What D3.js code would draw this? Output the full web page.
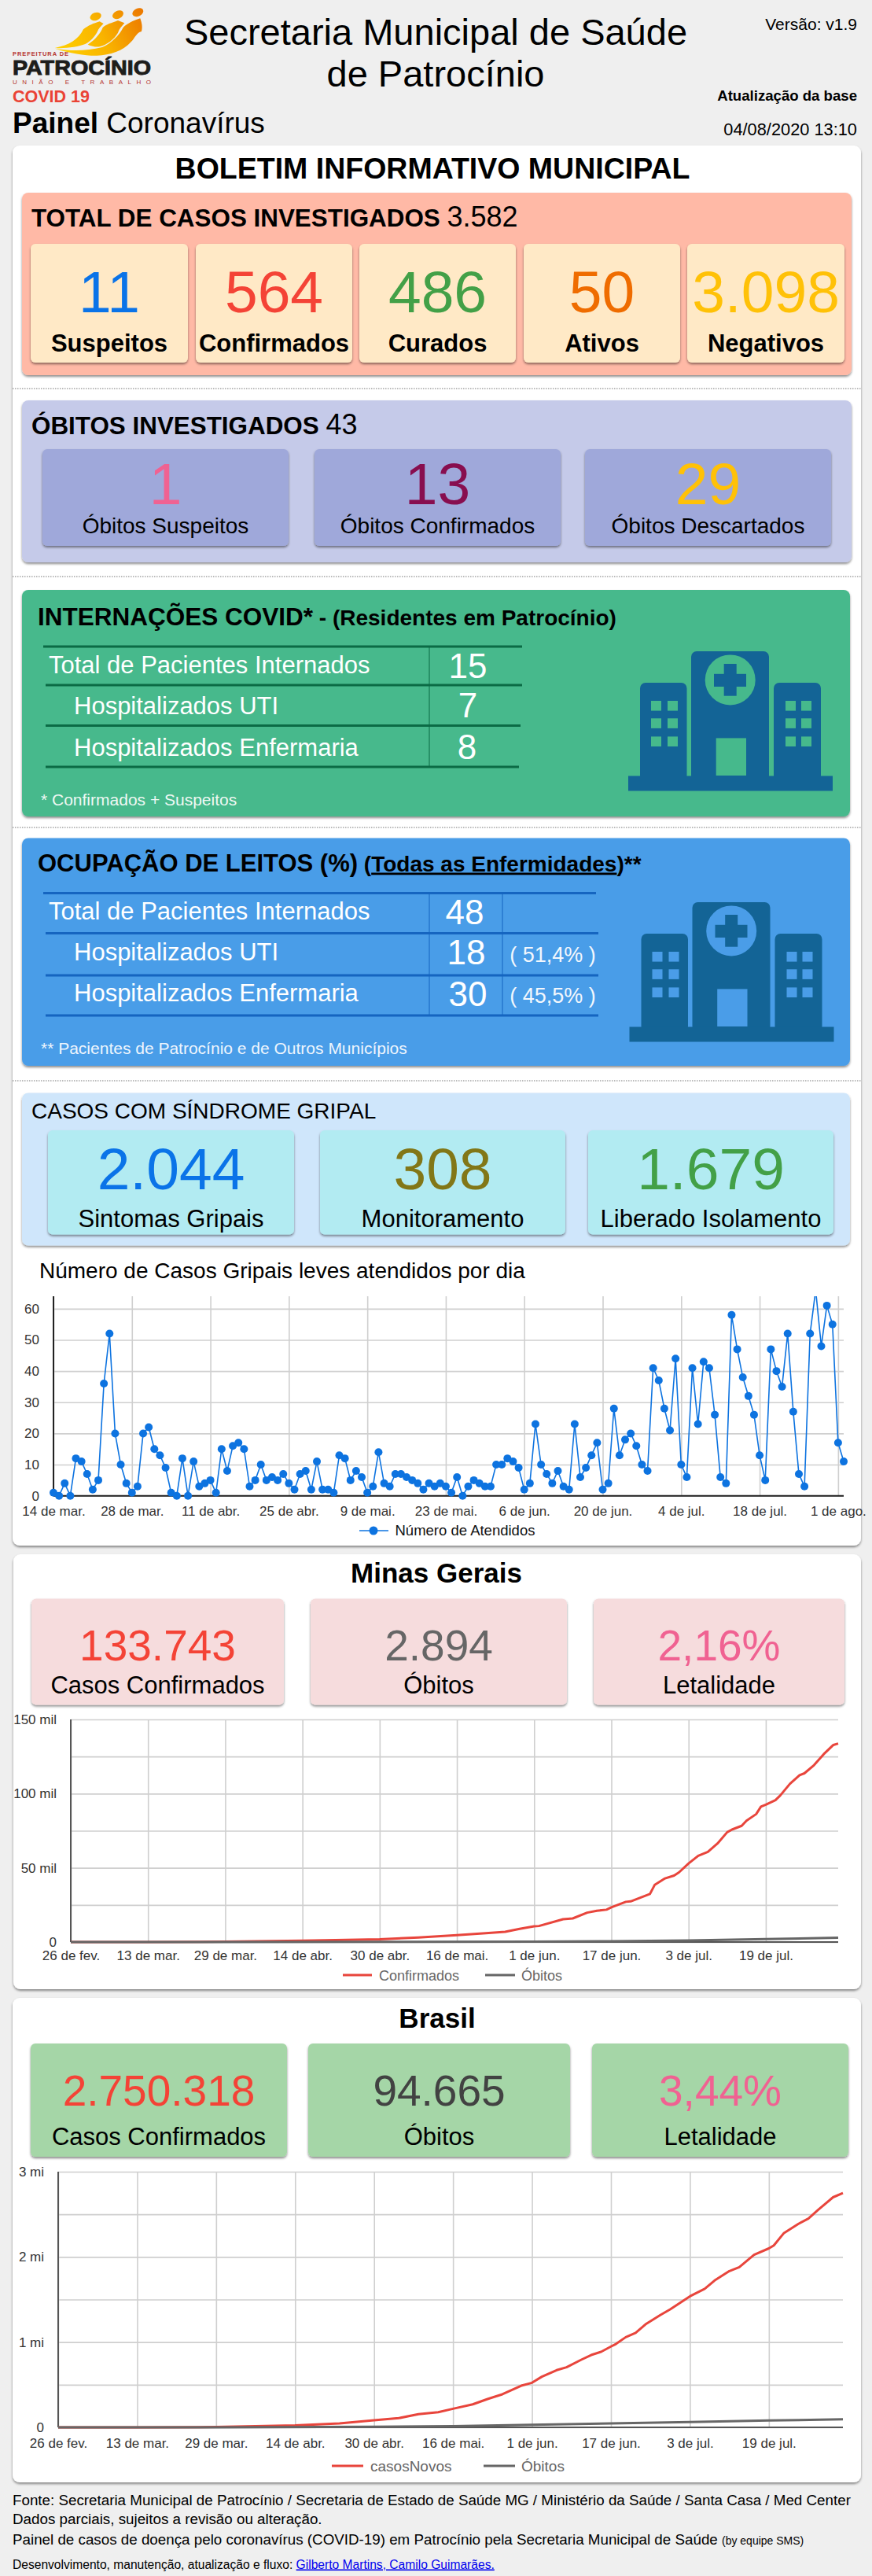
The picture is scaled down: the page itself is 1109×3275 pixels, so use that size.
<!DOCTYPE html>
<html>
<head>
<meta charset="utf-8">
<script src="https://cdn.jsdelivr.net/npm/d3@7"></script>
<style>
  html, body { margin: 0; padding: 0; background: #efefef; }
  svg { display: block; }
  text { font-family: "Liberation Sans", Arial, sans-serif; }
</style>
</head>
<body>
<svg id="painel" width="1109" height="3275"></svg>
<script>
var casosTotal = "3.582";
var casosValores = ["11", "564", "486", "50", "3.098"];
var casosNomes = ["Suspeitos", "Confirmados", "Curados", "Ativos", "Negativos"];
var casosCores = ["#0a73e8", "#f44336", "#43a047", "#ef6c00", "#ffc107"];

var obitosTotal = "43";
var obitosValores = ["1", "13", "29"];
var obitosNomes = ["Óbitos Suspeitos", "Óbitos Confirmados", "Óbitos Descartados"];
var obitosCores = ["#f06292", "#880e4f", "#ffc107"];

var internacoesNomes = ["Total de Pacientes Internados", "Hospitalizados UTI", "Hospitalizados Enfermaria"];
var internacoesValores = ["15", "7", "8"];
var leitosValores = ["48", "18", "30"];
var leitosPercent = ["", "( 51,4% )", "( 45,5% )"];

var gripalValores = ["2.044", "308", "1.679"];
var gripalNomes = ["Sintomas Gripais", "Monitoramento", "Liberado Isolamento"];
var gripalCores = ["#0a73e8", "#827717", "#43a047"];

var mgValores = ["133.743", "2.894", "2,16%"];
var brValores = ["2.750.318", "94.665", "3,44%"];
var estadoNomes = ["Casos Confirmados", "Óbitos", "Letalidade"];
var mgCores = ["#f44336", "#666666", "#f06292"];
var brCores = ["#f44336", "#424242", "#f06292"];

// atendimentos diarios, de 14/03 a 02/08
var atendidos = [1,0,4,0,12,11,7,2,5,36,52,20,10,4,1,3,20,22,15,13,9,1,0,12,0,11,3,4,5,1,
  15,8,16,17,15,3,5,10,5,6,5,7,4,2,7,8,2,11,2,2,1,13,12,5,8,6,1,3,14,4,3,7,7,6,5,4,2,4,3,
  4,3,1,6,0,3,5,4,3,3,10,10,12,11,9,2,4,23,10,7,4,8,3,2,23,6,9,13,17,2,4,28,13,18,20,16,10,8,
  41,37,28,21,44,10,6,41,23,43,41,26,6,4,58,47,38,32,26,13,5,47,40,35,52,27,7,3,52,66,48,61,55,17,11];
var gripalTicks = ["2020-03-14","2020-03-28","2020-04-11","2020-04-25","2020-05-09","2020-05-23","2020-06-06","2020-06-20","2020-07-04","2020-07-18","2020-08-01"];
var gripalTickNomes = ["14 de mar.","28 de mar.","11 de abr.","25 de abr.","9 de mai.","23 de mai.","6 de jun.","20 de jun.","4 de jul.","18 de jul.","1 de ago."];

var estadoTicks = ["2020-02-26","2020-03-13","2020-03-29","2020-04-14","2020-04-30","2020-05-16","2020-06-01","2020-06-17","2020-07-03","2020-07-19"];
var estadoTickNomes = ["26 de fev.","13 de mar.","29 de mar.","14 de abr.","30 de abr.","16 de mai.","1 de jun.","17 de jun.","3 de jul.","19 de jul."];

// Minas Gerais, em casos
var mgDatas = ["02-26","03-13","03-29","04-14","04-30","05-08","05-16","05-22","05-26","05-29","06-01","06-02","06-07","06-09","06-12","06-14","06-16","06-17","06-20","06-21","06-23","06-25","06-26","06-28","06-30","07-01","07-03","07-05","07-07","07-09","07-11","07-12","07-14","07-15","07-17","07-18","07-19","07-21","07-22","07-24","07-26","07-27","07-29","07-31","08-02","08-03"];
var mgCasos = [0,20,250,900,1900,3000,4600,6000,6900,8900,10600,10800,15400,15900,19800,21100,21800,23400,27100,27400,29900,32400,38600,42700,44800,46900,52900,58100,60700,66400,74000,75800,78300,81800,86200,91200,92600,95600,98800,106600,112400,113700,119200,126600,132800,133743];
var mgObitosDatas = ["02-26","04-30","06-01","06-17","07-03","07-19","08-03"];
var mgObitos = [0,70,250,550,1050,2000,2894];

// Brasil, em casos
var brDatas = ["02-26","03-13","03-29","04-14","04-23","04-30","05-05","05-09","05-13","05-16","05-20","05-23","05-26","05-30","06-01","06-03","06-06","06-08","06-11","06-13","06-15","06-17","06-18","06-20","06-22","06-24","06-27","06-29","07-03","07-06","07-08","07-11","07-13","07-16","07-19","07-20","07-22","07-25","07-27","07-29","08-01","08-03"];
var brCasos = [0,100,4000,22000,46000,83000,108000,154000,178000,218000,270000,332000,388000,492000,523000,594000,671000,705000,794000,849000,886000,948000,978000,1058000,1108000,1209000,1317000,1385000,1538000,1625000,1723000,1834000,1880000,2025000,2100000,2135000,2277000,2388000,2450000,2554000,2700000,2750318];
var brObitosDatas = ["02-26","03-29","04-30","05-16","06-01","06-17","07-03","07-19","08-03"];
var brObitos = [0,100,6000,15000,30000,47000,62000,80000,94665];

var svg = d3.select("#painel");
var defs = svg.append("defs");

var sombra = defs.append("filter").attr("id", "sombra").attr("x", "-5%").attr("y", "-5%").attr("width", "110%").attr("height", "115%");
sombra.append("feDropShadow").attr("dx", 0).attr("dy", 2).attr("stdDeviation", 1.6).attr("flood-color", "#000").attr("flood-opacity", 0.45);

var grad = defs.append("linearGradient").attr("id", "logoGrad").attr("gradientUnits", "userSpaceOnUse")
  .attr("x1", 230).attr("y1", 210).attr("x2", 545).attr("y2", 60);
grad.append("stop").attr("offset", "0").attr("stop-color", "#ffd000");
grad.append("stop").attr("offset", "0.5").attr("stop-color", "#f9b400");
grad.append("stop").attr("offset", "1").attr("stop-color", "#ec7a00");

function texto(x, y, t, size, opts) {
  opts = opts || {};
  return svg.append("text").attr("x", x).attr("y", y).text(t)
    .attr("font-size", size)
    .attr("font-weight", opts.bold ? "bold" : "normal")
    .attr("fill", opts.cor || "#000")
    .attr("text-anchor", opts.anchor || "start");
}

function caixa(x0, x1, y0, y1, cor, r) {
  svg.append("rect").attr("x", x0).attr("y", y0).attr("width", x1 - x0).attr("height", y1 - y0)
    .attr("rx", r || 7).attr("fill", cor).attr("filter", "url(#sombra)");
}

function pontilhado(y) {
  svg.append("line").attr("x1", 16).attr("x2", 1095).attr("y1", y).attr("y2", y)
    .attr("stroke", "#bbb").attr("stroke-width", 2).attr("stroke-dasharray", "1.5 1.5");
}

function cartoes(xs, y0, y1, cor, valores, nomes, cores, numY, numSize, nomeY, nomeSize, bold) {
  xs.forEach(function (p, i) {
    caixa(p[0], p[1], y0, y1, cor, 6);
    var cx = (p[0] + p[1]) / 2;
    texto(cx, numY, valores[i], numSize, { cor: cores[i], anchor: "middle" });
    texto(cx, nomeY, nomes[i], nomeSize, { anchor: "middle", bold: bold });
  });
}

// cabecalho
function logo() {
  var g = svg.append("g").attr("transform", "scale(0.3333)");
  [[365, 63, -20], [450, 56, -25], [526, 47, -25]].forEach(function (c) {
    g.append("ellipse").attr("cx", c[0]).attr("cy", c[1]).attr("rx", 22).attr("ry", 15)
      .attr("transform", "rotate(" + c[2] + " " + c[0] + " " + c[1] + ")").attr("fill", "url(#logoGrad)");
  });
  var corpos = [
    "M210 183 C265 172 300 150 318 112 C340 95 355 90 380 82 L395 90 C385 100 375 110 372 120 C362 140 345 158 325 168 C300 178 250 186 210 183Z",
    "M335 170 C365 150 385 125 392 105 C405 92 425 88 450 78 L475 88 C465 100 455 110 450 125 C435 150 410 170 380 178 C365 180 350 176 335 170Z",
    "M210 185 C270 195 330 195 390 180 C425 165 455 135 470 105 C485 90 505 80 535 70 C540 85 545 100 540 120 C520 125 515 145 500 160 C470 195 420 210 370 212 C330 213 270 205 210 185Z"
  ];
  g.selectAll("path.corpo").data(corpos).enter().append("path").attr("class", "corpo").attr("d", function (d) { return d; }).attr("fill", "url(#logoGrad)");
}
logo();
svg.append("text").attr("x", 16).attr("y", 71).attr("font-size", 7.5).attr("font-weight", "bold").attr("fill", "#b5332e")
  .attr("textLength", 71).attr("lengthAdjust", "spacing").text("PREFEITURA DE");
svg.append("text").attr("x", 16).attr("y", 95).attr("font-size", 26).attr("font-weight", "bold").attr("fill", "#1d1d1b")
  .attr("stroke", "#1d1d1b").attr("stroke-width", 0.9)
  .attr("textLength", 176).attr("lengthAdjust", "spacingAndGlyphs").text("PATROCÍNIO");
svg.append("text").attr("x", 16).attr("y", 107).attr("font-size", 8).attr("fill", "#b5332e")
  .attr("textLength", 176).attr("lengthAdjust", "spacing").text("UNIÃO E TRABALHO");
texto(16, 130, "COVID 19", 21.5, { bold: true, cor: "#ea4335" });

var painelT = texto(16, 169, "Painel", 37, { bold: true });
painelT.append("tspan").attr("font-weight", "normal").text(" Coronavírus");
texto(554, 57, "Secretaria Municipal de Saúde", 47, { anchor: "middle" });
texto(554, 110, "de Patrocínio", 47, { anchor: "middle" });
texto(1090, 38, "Versão: v1.9", 21, { anchor: "end" });
texto(1090, 128, "Atualização da base", 18.6, { anchor: "end", bold: true });
texto(1090, 172, "04/08/2020 13:10", 21.8, { anchor: "end" });

// cartao branco principal
caixa(16, 1095, 185, 1965, "#fff", 9);
texto(550, 226.5, "BOLETIM INFORMATIVO MUNICIPAL", 37.5, { anchor: "middle", bold: true });

// total de casos
caixa(28, 1083, 245, 477, "#ffb9a6", 8);
var t1 = texto(40, 288, "TOTAL DE CASOS INVESTIGADOS ", 31.4, { bold: true });
t1.append("tspan").attr("font-weight", "normal").attr("font-size", 36).text(casosTotal);
cartoes([[39, 239], [249, 448], [457, 656], [666, 865], [874, 1074]], 310, 461, "#ffe9c6",
  casosValores, casosNomes, casosCores, 396.5, 75, 446.5, 31, true);
pontilhado(494);

// obitos
caixa(28, 1083, 509, 715, "#c5cae9", 8);
var t2 = texto(40, 552, "ÓBITOS INVESTIGADOS ", 31.4, { bold: true });
t2.append("tspan").attr("font-weight", "normal").attr("font-size", 36).text(obitosTotal);
cartoes([[54, 367], [400, 713], [744, 1057]], 571, 694, "#9fa8da",
  obitosValores, obitosNomes, obitosCores, 641, 75, 678, 28, false);
pontilhado(733);

// tabelas com os hospitalizados
function tabela(linhas, corLinha, verticais, valores, valorXs, valorYs, nomeYs, percent) {
  linhas.forEach(function (l) {
    svg.append("line").attr("x1", l[0]).attr("x2", l[1]).attr("y1", l[2]).attr("y2", l[2])
      .attr("stroke", corLinha).attr("stroke-width", 3);
  });
  verticais.forEach(function (x) {
    svg.append("line").attr("x1", x).attr("x2", x).attr("y1", linhas[0][2]).attr("y2", linhas[3][2])
      .attr("stroke", corLinha).attr("stroke-width", 1);
  });
  internacoesNomes.forEach(function (n, i) {
    texto(i == 0 ? 62 : 94, nomeYs[i], n, 31, { cor: "#fff" });
    texto(valorXs[i], valorYs[i], valores[i], 44, { cor: "#fff", anchor: "middle" });
    if (percent && percent[i]) {
      texto(703, nomeYs[i] + 2, percent[i], 27, { cor: "#f2f7fd", anchor: "middle" });
    }
  });
}

function hospital(dx, dy, corFundo) {
  var azul = "#136496";
  var g = svg.append("g").attr("transform", "translate(" + dx + "," + dy + ")");
  function r(x, y, w, h, cor, rx) {
    g.append("rect").attr("x", x).attr("y", y).attr("width", w).attr("height", h).attr("fill", cor).attr("rx", rx || 0);
  }
  r(814, 868, 59.5, 125, azul, 7);
  r(879, 828, 99, 165, azul, 7);
  r(984, 868, 60, 125, azul, 7);
  r(799, 986.5, 260, 19, azul);
  g.append("circle").attr("cx", 928.7).attr("cy", 864.4).attr("r", 32).attr("fill", corFundo);
  r(920.7, 844, 16, 40.7, azul);
  r(908, 856.8, 41, 16.2, azul);
  r(910.7, 938.4, 38.3, 47.6, corFundo);
  [828, 849, 999, 1019].forEach(function (x) {
    [891, 913.3, 936.4].forEach(function (y) { r(x, y, 13, 12.6, corFundo); });
  });
}

// internacoes
caixa(28, 1081, 750, 1038, "#46b98c", 8);
var t3 = texto(48, 795, "INTERNAÇÕES COVID*", 31.5, { bold: true });
t3.append("tspan").attr("font-size", 28).text(" - (Residentes em Patrocínio)");
tabela([[55, 664, 822], [58, 664, 871], [58, 662, 922.5], [58, 660, 975]], "#0b6b45", [546],
  internacoesValores, [595, 595, 594], [862, 912, 965], [856, 908, 961]);
texto(52, 1023.5, "* Confirmados + Suspeitos", 21, { cor: "#eef8f3" });
hospital(0, 0, "#46b98c");
pontilhado(1052);

// leitos
caixa(28, 1081, 1065.5, 1355, "#4a9de8", 8);
var t4 = texto(48, 1107.5, "OCUPAÇÃO DE LEITOS (%)", 31, { bold: true });
var t4b = t4.append("tspan").attr("font-size", 28);
t4b.append("tspan").text(" (");
t4b.append("tspan").attr("text-decoration", "underline").text("Todas as Enfermidades");
t4b.append("tspan").text(")**");
tabela([[55, 758, 1135.5], [58, 761, 1186.5], [58, 761, 1240], [58, 761, 1291]], "#1565c0", [546, 639],
  leitosValores, [591, 593, 595], [1174.5, 1226, 1279], [1169, 1220.5, 1273], leitosPercent);
texto(52, 1340, "** Pacientes de Patrocínio e de Outros Municípios", 21, { cor: "#eef5fd" });
hospital(1.5, 319, "#4a9de8");
pontilhado(1374);

// sindrome gripal
caixa(28, 1081, 1389.5, 1583.5, "#cfe6fb", 8);
texto(40, 1422, "CASOS COM SÍNDROME GRIPAL", 28);
cartoes([[61, 374], [407, 719], [748, 1060]], 1437, 1569.5, "#b2ebf2",
  gripalValores, gripalNomes, gripalCores, 1512, 75, 1560, 31, false);
texto(50, 1625, "Número de Casos Gripais leves atendidos por dia", 28);

// ajuda para eixos e grade
function eixos(x, y, h, w, yTicks, yFmt, xTicks, xNomes, fontSize, corEixo, padX) {
  var gx = svg.append("g").attr("transform", "translate(0," + y.range()[0] + ")")
    .call(d3.axisBottom(x).tickValues(xTicks).tickFormat(function (d, i) { return xNomes[i]; }).tickSize(-h).tickPadding(padX));
  var gy = svg.append("g").attr("transform", "translate(" + x.range()[0] + ",0)")
    .call(d3.axisLeft(y).tickValues(yTicks).tickFormat(yFmt).tickSize(-w).tickPadding(18));
  [gx, gy].forEach(function (g) {
    g.select(".domain").remove();
    g.selectAll("line").attr("stroke", "#cfcfcf").attr("stroke-width", 1.6);
    g.selectAll("text").attr("font-size", fontSize).attr("fill", "#333").attr("font-family", '"Liberation Sans", Arial, sans-serif');
  });
  svg.append("line").attr("x1", x.range()[0]).attr("x2", x.range()[1]).attr("y1", y.range()[0]).attr("y2", y.range()[0])
    .attr("stroke", corEixo).attr("stroke-width", 2);
  svg.append("line").attr("x1", x.range()[0]).attr("x2", x.range()[0]).attr("y1", y.range()[0]).attr("y2", y.range()[1])
    .attr("stroke", corEixo).attr("stroke-width", 2);
}

// grafico de atendimentos por dia
var dia = d3.utcParse("%Y-%m-%d");
var dia0 = dia("2020-03-14");
var xG = d3.scaleUtc().domain([dia0, dia("2020-08-02")]).range([68, 1073]);
var yG = d3.scaleLinear().domain([0, 64]).range([1901.7, 1648]);
eixos(xG, yG, 253.7, 1005, [0, 10, 20, 30, 40, 50, 60], d3.format("d"), gripalTicks.map(dia), gripalTickNomes, 17, "#222", 13);

defs.append("clipPath").attr("id", "cortaG").append("rect").attr("x", 55).attr("y", 1648).attr("width", 1040).attr("height", 265);
var atendPts = atendidos.map(function (v, i) { return { d: d3.utcDay.offset(dia0, i), v: v }; });
var gG = svg.append("g").attr("clip-path", "url(#cortaG)");
gG.append("path").datum(atendPts).attr("fill", "none").attr("stroke", "#0d73e0").attr("stroke-width", 1.6)
  .attr("d", d3.line().x(function (p) { return xG(p.d); }).y(function (p) { return yG(p.v); }));
gG.selectAll("circle").data(atendPts).enter().append("circle")
  .attr("cx", function (p) { return xG(p.d); }).attr("cy", function (p) { return yG(p.v); })
  .attr("r", 5).attr("fill", "#0d73e0");
svg.append("line").attr("x1", 457).attr("x2", 494).attr("y1", 1946).attr("y2", 1946).attr("stroke", "#0d73e0").attr("stroke-width", 1.6);
svg.append("circle").attr("cx", 475).attr("cy", 1946).attr("r", 5.5).attr("fill", "#0d73e0");
texto(502.5, 1952, "Número de Atendidos", 18.5, { cor: "#111" });

// graficos de Minas e Brasil
function fmtMil(d) { return d == 0 ? "0" : (d % 50000 == 0 ? d / 1000 + " mil" : ""); }
function fmtMi(d) { return d == 0 ? "0" : (d % 1000000 == 0 ? d / 1000000 + " mi" : ""); }

function curvaEstado(x, y, datas, valores, cor) {
  var pts = datas.map(function (s, i) { return { d: dia("2020-" + s), v: valores[i] }; });
  svg.append("path").datum(pts).attr("fill", "none").attr("stroke", cor).attr("stroke-width", 3)
    .attr("stroke-linejoin", "round")
    .attr("d", d3.line().x(function (p) { return x(p.d); }).y(function (p) { return y(p.v); }));
}

function legendaEstado(y, base, itens) {
  itens.forEach(function (it) {
    svg.append("line").attr("x1", it.x0).attr("x2", it.x1).attr("y1", y).attr("y2", y).attr("stroke", it.cor).attr("stroke-width", 3);
    texto(it.tx, base, it.nome, it.size, { cor: "#666" });
  });
}

// Minas Gerais
caixa(17, 1095, 1976, 2529, "#fff", 9);
texto(555, 2012, "Minas Gerais", 35, { anchor: "middle", bold: true });
cartoes([[40, 361], [395, 721], [755, 1074]], 2032.5, 2167.5, "#f6dcdd",
  mgValores, estadoNomes, mgCores, 2111, 55, 2153, 31, false);
var xM = d3.scaleUtc().domain([dia("2020-02-26"), dia("2020-08-03")]).range([90, 1066]);
var yM = d3.scaleLinear().domain([0, 150000]).range([2469, 2186]);
eixos(xM, yM, 283, 976, [0, 25000, 50000, 75000, 100000, 125000, 150000], fmtMil, estadoTicks.map(dia), estadoTickNomes, 17, "#555", 11);
curvaEstado(xM, yM, mgDatas, mgCasos, "#e8453c");
curvaEstado(xM, yM, mgObitosDatas, mgObitos, "#666");
legendaEstado(2511, 2517.5, [
  { x0: 436, x1: 473, cor: "#e8453c", nome: "Confirmados", tx: 482, size: 18 },
  { x0: 617, x1: 655, cor: "#666", nome: "Óbitos", tx: 663, size: 18 }
]);

// Brasil
caixa(16, 1095, 2540, 3156, "#fff", 9);
texto(556, 2577.5, "Brasil", 35, { anchor: "middle", bold: true });
cartoes([[39, 365], [392, 725], [753, 1079]], 2598, 2742, "#a5d6a7",
  brValores, estadoNomes, brCores, 2677, 55, 2727, 31, false);
var xB = d3.scaleUtc().domain([dia("2020-02-26"), dia("2020-08-03")]).range([74, 1072]);
var yB = d3.scaleLinear().domain([0, 3000000]).range([3086, 2761]);
eixos(xB, yB, 325, 998, [0, 500000, 1000000, 1500000, 2000000, 2500000, 3000000], fmtMi, estadoTicks.map(dia), estadoTickNomes, 17, "#555", 14);
curvaEstado(xB, yB, brDatas, brCasos, "#e8453c");
curvaEstado(xB, yB, brObitosDatas, brObitos, "#666");
legendaEstado(3135, 3141.5, [
  { x0: 422, x1: 462, cor: "#e8453c", nome: "casosNovos", tx: 471, size: 19 },
  { x0: 615, x1: 655, cor: "#666", nome: "Óbitos", tx: 663, size: 19 }
]);

// rodape
texto(16, 3184.5, "Fonte: Secretaria Municipal de Patrocínio / Secretaria de Estado de Saúde MG / Ministério da Saúde / Santa Casa / Med Center", 18.8, {});
texto(16, 3209, "Dados parciais, sujeitos a revisão ou alteração.", 18.8, {});
var f3 = texto(16, 3234.5, "Painel de casos de doença pelo coronavírus (COVID-19) em Patrocínio pela Secretaria Municipal de Saúde ", 18.8, {});
f3.append("tspan").attr("font-size", 14).text("(by equipe SMS)");
var f4 = texto(16, 3265.5, "Desenvolvimento, manutenção, atualização e fluxo: ", 15.6, {});
f4.append("tspan").attr("fill", "#0000ee").attr("text-decoration", "underline").text("Gilberto Martins, Camilo Guimarães.");
</script>
</body>
</html>
